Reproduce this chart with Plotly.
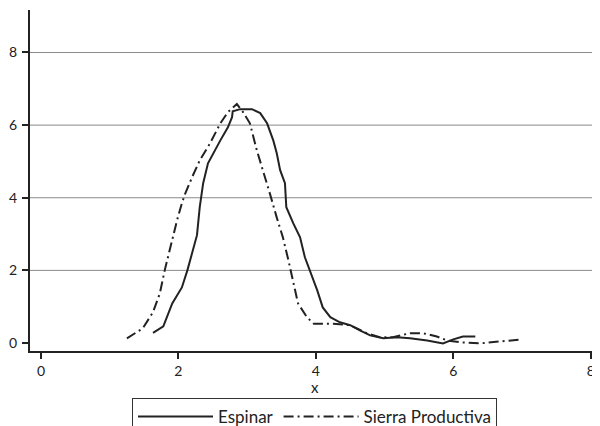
import plotly.graph_objects as go

# Espinar (solid)
esp_x = [1.63, 1.78, 1.91, 2.05, 2.13, 2.20, 2.27, 2.31, 2.36, 2.43, 2.49, 2.61, 2.72, 2.78, 2.79,
         2.90, 3.07, 3.19, 3.29, 3.38, 3.43, 3.48, 3.55, 3.57, 3.67, 3.77, 3.84, 3.92, 4.02, 4.10,
         4.21, 4.35, 4.50, 4.64, 4.79, 4.98, 5.18, 5.37, 5.62, 5.85, 6.00, 6.14, 6.32]
esp_y = [0.28, 0.46, 1.09, 1.53, 2.00, 2.47, 2.97, 3.74, 4.40, 4.95, 5.17, 5.58, 5.94, 6.22, 6.38,
         6.44, 6.44, 6.33, 6.05, 5.58, 5.23, 4.76, 4.40, 3.74, 3.30, 2.91, 2.36, 1.95, 1.45, 0.98,
         0.71, 0.57, 0.49, 0.35, 0.21, 0.13, 0.16, 0.13, 0.07, -0.01, 0.10, 0.18, 0.18]

# Sierra Productiva (dash-dot)
sp_x = [1.25, 1.48, 1.63, 1.73, 1.80, 1.88, 1.98, 2.05, 2.10, 2.20, 2.31, 2.46, 2.61, 2.72, 2.85,
        2.94, 3.04, 3.14, 3.23, 3.33, 3.43, 3.52, 3.60, 3.67, 3.74, 3.87, 3.97, 4.25, 4.50, 4.74,
        4.93, 5.12, 5.37, 5.56, 5.76, 5.91, 6.10, 6.39, 6.58, 6.78, 7.00]
sp_y = [0.13, 0.40, 0.85, 1.37, 2.00, 2.64, 3.38, 3.85, 4.12, 4.57, 5.03, 5.50, 6.05, 6.36, 6.58,
        6.36, 6.05, 5.31, 4.76, 4.12, 3.46, 2.91, 2.28, 1.64, 1.09, 0.71, 0.53, 0.53, 0.49, 0.27,
        0.16, 0.16, 0.27, 0.27, 0.18, 0.07, 0.02, -0.01, 0.02, 0.05, 0.10]

x_ticks = [0, 2, 4, 6, 8]
y_ticks = [0, 2, 4, 6, 8]
grid_vals = [2, 4, 6, 8]
x_title = "x"

FONT = "Lato"
INK = "#222222"

fig = go.Figure()
fig.add_trace(go.Scatter(x=esp_x, y=esp_y, mode="lines", name="Espinar",
                         line=dict(color=INK, width=2, dash="solid")))
fig.add_trace(go.Scatter(x=sp_x, y=sp_y, mode="lines", name="Sierra Productiva",
                         line=dict(color=INK, width=2, dash="10px,4px,2px,4px")))

for g in grid_vals:
    fig.add_shape(type="line", xref="paper", x0=0, x1=1, yref="y", y0=g, y1=g,
                  line=dict(color="#8a8a8a", width=1), layer="below")

fig.add_annotation(text=x_title, xref="paper", yref="paper", x=0.5, y=-0.106,
                   xanchor="center", yanchor="middle", showarrow=False,
                   font=dict(size=15, color=INK, family=FONT))

# page body adds an 8px offset; figure sized to compensate
fig.update_layout(
    width=592, height=430,
    margin=dict(l=22, r=1, t=2, b=87),
    paper_bgcolor="white", plot_bgcolor="white",
    font=dict(family=FONT, size=14, color=INK),
    showlegend=True,
    legend=dict(orientation="h", x=0.5, xanchor="center", y=-0.138, yanchor="top",
                bordercolor="#333333", borderwidth=1, font=dict(size=17),
                itemwidth=75, tracegroupgap=0),
    xaxis=dict(range=[-0.16, 8.12], tickvals=x_ticks, showgrid=False, zeroline=False,
               showline=True, linecolor=INK, linewidth=2, ticks="outside", ticklen=6,
               tickcolor=INK, tickwidth=1.5, automargin=False),
    yaxis=dict(range=[-0.22, 9.17], tickvals=y_ticks, showgrid=False, zeroline=False,
               showline=True, linecolor=INK, linewidth=2, ticks="outside", ticklen=6,
               tickcolor=INK, tickwidth=1.5, automargin=False, ticklabelstandoff=2),
)

fig.write_html("out.html")
